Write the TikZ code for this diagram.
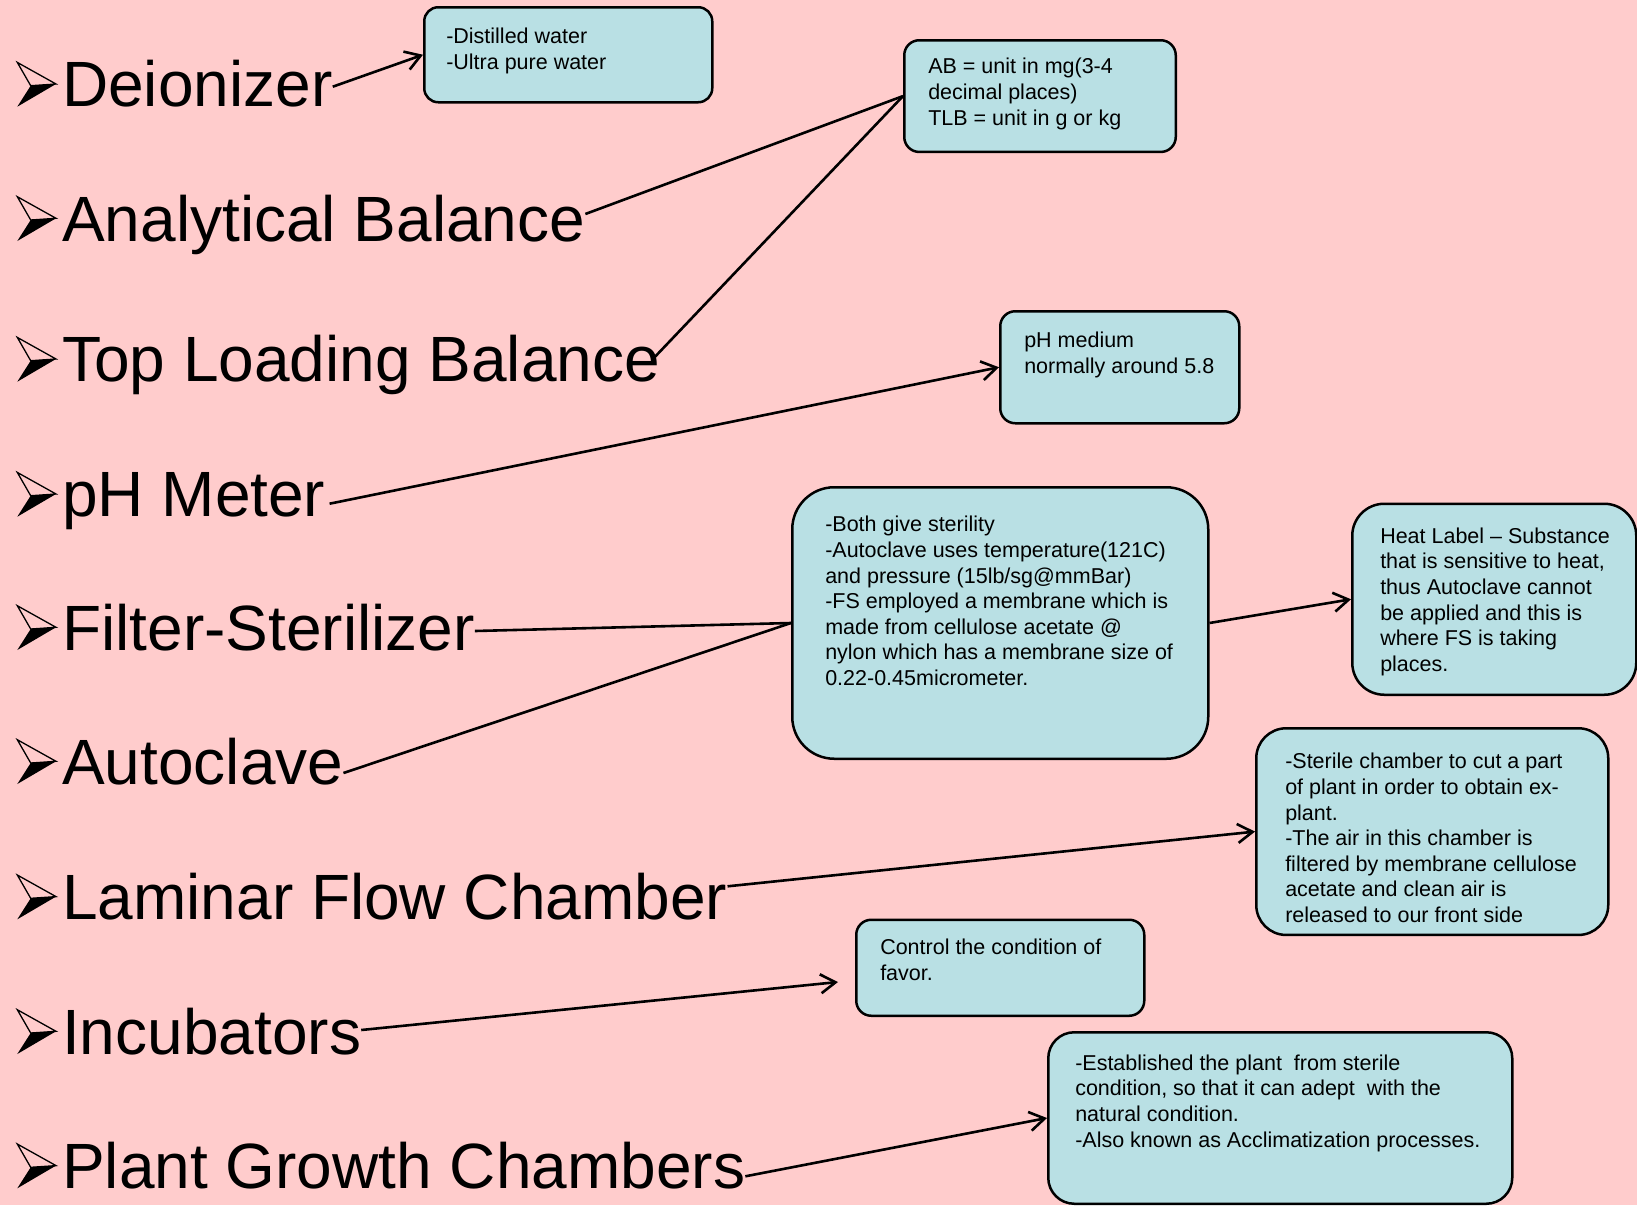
\documentclass[tikz,border=0pt]{standalone}
\usepackage{fontspec}
\setmainfont{Liberation Sans}
\usepackage{tikz}
\usetikzlibrary{arrows.meta}

\definecolor{bgpink}{RGB}{255,204,204}
\definecolor{notefill}{RGB}{185,224,228}

\newcommand{\bigfont}{\fontsize{64}{70}\selectfont}
\newcommand{\notefont}{\fontsize{21.5}{25.6}\selectfont}
% width, height, left pad, top pad, lines
\newcommand{\notetext}[5]{\vbox to #2pt{\hsize=#1pt\raggedright\leftskip=#3pt\relax
  \parindent=0pt\vskip #4pt\noindent #5\par\vfil}}

\tikzset{
  itemtext/.style={anchor=base west, inner sep=0pt, font=\bigfont},
  note/.style={draw, fill=notefill, line width=2.5pt, inner sep=0pt, anchor=north west, font=\notefont},
  link/.style={line width=2.6pt},
  arr/.style={link, -{Straight Barb[length=15pt,width=19pt]}},
  bulletarrow/.pic={
    \fill (13.4,-21) -- (38.7,-22.7) -- (0,0) -- cycle;
    \draw[line width=1.3pt, line join=miter] (0,-44.3) -- (38.7,-22.7) -- (13.4,-21) -- cycle;
  }
}

\begin{document}
\begin{tikzpicture}[x=1pt, y=-1pt]
  \fill[bgpink] (0,0) rectangle (1637,1205);
  \useasboundingbox (0,0) rectangle (1637,1205);

  % list of instruments
  \foreach \nm/\txt/\yb in {deion/Deionizer/106.7, anbal/Analytical Balance/241,
      tlbal/Top Loading Balance/381.7, phm/pH Meter/516.7, filt/Filter-Sterilizer/650,
      autocl/Autoclave/784, laminar/Laminar Flow Chamber/919.3, incub/Incubators/1054,
      pgc/Plant Growth Chambers/1188.3}
  {
    \pic at (17.3,\yb) {bulletarrow};
    \node[itemtext] (\nm) at (62,\yb) {\txt};
  }

  % notes
  \node[note, rounded corners=14pt] (distil) at (423,6)
    {\notetext{288}{95}{22}{21}{-Distilled water\\-Ultra pure water}};
  \node[note, rounded corners=15pt] (units) at (903,39)
    {\notetext{271.5}{111.7}{24}{18}{AB = unit in mg(3-4\\decimal places)\\TLB = unit in g or kg}};
  \node[note, rounded corners=15pt] (phmed) at (999,310)
    {\notetext{239}{112}{24}{21}{pH medium\\normally around 5.8}};
  \node[note, rounded corners=42pt] (steril) at (791,486)
    {\notetext{416}{271.5}{33}{29}{-Both give sterility\\-Autoclave uses temperature(121C)\\and pressure (15lb/sg@mmBar)\\-FS employed a membrane which is\\made from cellulose acetate @\\nylon which has a membrane size of\\0.22-0.45micrometer.}};
  \node[note, rounded corners=32pt] (heat) at (1351,502.5)
    {\notetext{284}{191}{28}{24}{Heat Label – Substance\\that is sensitive to heat,\\thus Autoclave cannot\\be applied and this is\\where FS is taking\\places.}};
  \node[note, rounded corners=30pt] (lfc) at (1255,727)
    {\notetext{352}{206.7}{29}{25}{-Sterile chamber to cut a part\\of plant in order to obtain ex-\\plant.\\-The air in this chamber is\\filtered by membrane cellulose\\acetate and clean air is\\released to our front side}};
  \node[note, rounded corners=15pt] (favor) at (855,918.5)
    {\notetext{288}{96}{24}{19.5}{Control the condition of\\favor.}};
  \node[note, rounded corners=26pt] (accl) at (1047,1031)
    {\notetext{464}{171.5}{27}{22.5}{-Established the plant\ \ from sterile\\condition, so that it can adept\ \ with the\\natural condition.\\-Also known as Acclimatization processes.}};

  % connectors
  \coordinate (incend) at (838,982);
  \draw[arr]  ([yshift=20pt]deion.base east) -- (distil.west);
  \draw[link] ([yshift=27pt]anbal.base east) -- (units.west);
  \draw[link] ([xshift=-8pt,yshift=22pt]tlbal.base east) -- (units.west);
  \draw[arr]  ([xshift=4pt,yshift=13pt]phm.base east) -- (phmed.west);
  \draw[link] ([yshift=19pt]filt.base east) -- (steril.west);
  \draw[link] ([yshift=11pt]autocl.base east) -- (steril.west);
  \draw[arr]  (steril.east) -- (heat.west);
  \draw[arr]  ([yshift=33pt]laminar.base east) -- (lfc.west);
  \draw[arr]  ([yshift=24pt]incub.base east) -- (incend);
  \draw[arr]  ([yshift=12pt]pgc.base east) -- (accl.west);
\end{tikzpicture}
\end{document}
